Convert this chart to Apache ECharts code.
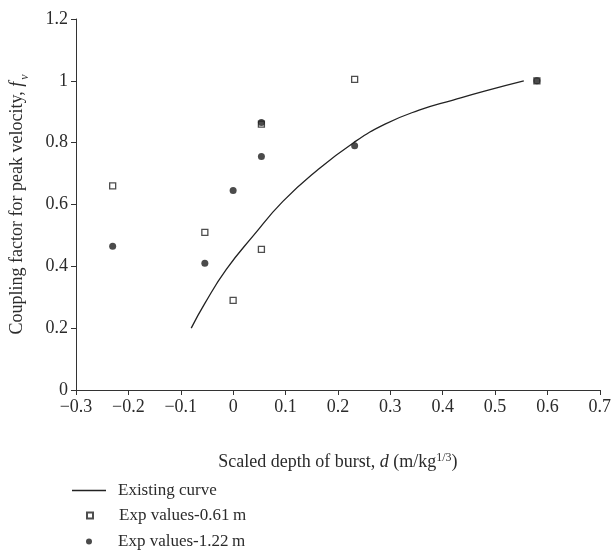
<!DOCTYPE html>
<html>
<head>
    <meta charset="utf-8" />
    <title></title>
    <script type="text/javascript" src="https://cdn.jsdelivr.net/npm/echarts@6/dist/echarts.min.js"></script>
    <style>
        html, body { margin: 0; padding: 0; background: #fff; }
        #main { width: 614px; height: 550px; }
    </style>
</head>
<body>
    <div id="main"></div>
    <script type="text/javascript">
        // existing curve
        var curveX = [-0.08, -0.054, -0.013, 0.039, 0.095, 0.16, 0.23, 0.29, 0.355, 0.42, 0.48, 0.555];
        var curveY = [0.20, 0.28, 0.39, 0.50, 0.61, 0.71, 0.80, 0.86, 0.905, 0.938, 0.967, 1.0];
        // experimental values, 0.61 m (open squares)
        var exp061X = [-0.23, -0.054, 0, 0.054, 0.054, 0.232, 0.58];
        var exp061Y = [0.66, 0.51, 0.29, 0.455, 0.86, 1.005, 1.0];
        // experimental values, 1.22 m (dots)
        var exp122X = [-0.23, -0.054, 0, 0.054, 0.054, 0.232, 0.58];
        var exp122Y = [0.465, 0.41, 0.645, 0.755, 0.865, 0.79, 1.0];

        var names = ['Existing curve', 'Exp values-0.61\u2009m', 'Exp values-1.22\u2009m'];

        function pairs(xs, ys) {
            var out = [];
            for (var i = 0; i < xs.length; i++) out.push([xs[i], ys[i]]);
            return out;
        }

        var font = 'Liberation Serif';
        var ink = '#2b2b2b';
        var legendText = { fontFamily: font, fontSize: 17, color: ink };

        var myChart = echarts.init(document.getElementById('main'));
        var option = {
            backgroundColor: '#fff',
            animation: false,
            textStyle: { fontFamily: font, color: ink },
            grid: { left: 76, right: 13, top: 19, bottom: 160 },
            // one legend per row, so each icon gets its own size
            legend: [{
                left: 67, top: 477,
                icon: 'rect', itemWidth: 34, itemHeight: 1.3,
                itemStyle: { color: '#222' },
                textStyle: echarts.util.extend({ padding: [0, 0, 0, 7] }, legendText),
                data: [names[0]]
            }, {
                left: 81, top: 502,
                icon: 'rect', itemWidth: 6, itemHeight: 6,
                textStyle: echarts.util.extend({ padding: [0, 0, 0, 21] }, legendText),
                data: [names[1]]
            }, {
                left: 81, top: 528,
                icon: 'circle', itemWidth: 6, itemHeight: 6,
                textStyle: echarts.util.extend({ padding: [0, 0, 0, 21] }, legendText),
                data: [names[2]]
            }],
            xAxis: {
                type: 'value',
                min: -0.3,
                max: 0.7,
                interval: 0.1,
                splitLine: { show: false },
                axisLine: { onZero: false, lineStyle: { color: '#333', width: 1 } },
                axisTick: { length: 5, lineStyle: { color: '#333' } },
                axisLabel: {
                    fontFamily: font, fontSize: 18, color: ink, margin: 8,
                    formatter: function (v) { return (Math.round(v * 10) / 10).toString().replace('-', '\u2212'); }
                },
                name: '{n|Scaled depth of burst,}{i| d}{n| (m/kg}{s|1/3}{n|)}',
                nameLocation: 'middle',
                nameGap: 62,
                nameTextStyle: {
                    rich: {
                        n: { fontFamily: font, fontSize: 18, color: ink },
                        i: { fontFamily: font, fontSize: 18, fontStyle: 'italic', color: ink },
                        s: { fontFamily: font, fontSize: 12, color: ink, verticalAlign: 'top', padding: [0, 0, 8, 0] }
                    }
                }
            },
            yAxis: {
                type: 'value',
                min: 0,
                max: 1.2,
                interval: 0.2,
                splitLine: { show: false },
                axisLine: { show: true, onZero: false, lineStyle: { color: '#333', width: 1 } },
                axisTick: { show: true, length: 5, lineStyle: { color: '#333' } },
                axisLabel: { fontFamily: font, fontSize: 18, color: ink, margin: 8 },
                name: '{n|Coupling factor for peak velocity, }{i|f}{s|v}',
                nameLocation: 'middle',
                nameRotate: 90,
                nameGap: 45,
                nameTextStyle: {
                    rich: {
                        n: { fontFamily: font, fontSize: 18, color: ink, lineHeight: 22 },
                        i: { fontFamily: font, fontSize: 18, fontStyle: 'italic', color: ink, lineHeight: 22 },
                        s: { fontFamily: font, fontSize: 12, fontStyle: 'italic', color: ink, lineHeight: 28, verticalAlign: 'bottom', padding: [0, 0, 0, 2] }
                    }
                }
            },
            series: [{
                name: names[0],
                type: 'line',
                smooth: 0.5,
                symbol: 'none',
                lineStyle: { color: '#222', width: 1.3 },
                itemStyle: { color: '#222' },
                data: pairs(curveX, curveY)
            }, {
                name: names[1],
                type: 'scatter',
                symbol: 'rect',
                symbolSize: 6,
                itemStyle: { color: '#fff', borderColor: '#222', borderWidth: 1.3 },
                data: pairs(exp061X, exp061Y)
            }, {
                name: names[2],
                type: 'scatter',
                symbol: 'circle',
                symbolSize: 7,
                itemStyle: { color: '#1e1e1e' },
                data: pairs(exp122X, exp122Y)
            }]
        };
        option && myChart.setOption(option);
    </script>
</body>
</html>
